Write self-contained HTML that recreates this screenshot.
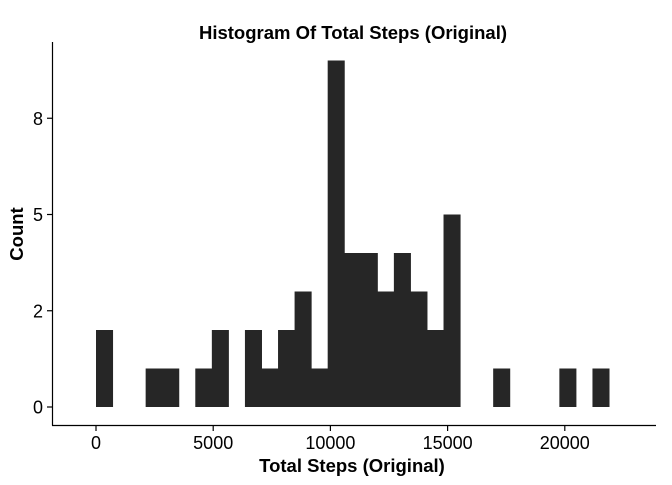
<!DOCTYPE html>
<html><head><meta charset="utf-8"><style>
body{margin:0;background:#fff;}
svg text{font-family:"Liberation Sans",Arial,sans-serif;}
</style></head><body>
<svg width="672" height="480" xmlns="http://www.w3.org/2000/svg">
<text x="353" y="39" text-anchor="middle" font-size="18.5" font-weight="bold" fill="#000">Histogram Of Total Steps (Original)</text>
<g id="bars"></g>
<line x1="52.5" y1="42" x2="52.5" y2="425.5" stroke="#000" stroke-width="1.2"/>
<line x1="52" y1="425.5" x2="656" y2="425.5" stroke="#000" stroke-width="1.2"/>
<g id="xt"></g>
<g id="yt"></g>
<text x="352" y="472" text-anchor="middle" font-size="18.5" font-weight="bold" fill="#000">Total Steps (Original)</text>
<text transform="translate(23,234) rotate(-90)" text-anchor="middle" font-size="18.5" font-weight="bold" fill="#000">Count</text>
</svg>
<script>
const binWidth = 706;
const counts = [2,0,0,1,1,0,1,2,0,2,1,2,3,1,9,4,4,3,4,3,2,5,0,0,1,0,0,0,1,0,1];
const xTicks = [0,5000,10000,15000,20000];
const yTickValues = [0,2.5,5,7.5];
const yTickLabels = ["0","2","5","8"];
const NS="http://www.w3.org/2000/svg";
function x(v){return 96+v*(117.2/5000);}
function y(v){return 407-v*38.5;}
const bars=document.getElementById('bars');
counts.forEach((c,i)=>{
  if(!c) return;
  const r=document.createElementNS(NS,'rect');
  const x0=x(i*binWidth), x1=x((i+1)*binWidth);
  r.setAttribute('x',x0);r.setAttribute('width',x1-x0+0.5);
  r.setAttribute('y',y(c));r.setAttribute('height',y(0)-y(c));
  r.setAttribute('fill','#262626');
  
  
  bars.appendChild(r);
});
const xt=document.getElementById('xt');
xTicks.forEach(v=>{
  const l=document.createElementNS(NS,'line');
  l.setAttribute('x1',x(v));l.setAttribute('x2',x(v));l.setAttribute('y1',425.5);l.setAttribute('y2',431);
  l.setAttribute('stroke','#000');l.setAttribute('stroke-width','1.2');
  
  
  xt.appendChild(l);
  const t=document.createElementNS(NS,'text');
  t.setAttribute('x',x(v));t.setAttribute('y',449);t.setAttribute('text-anchor','middle');t.setAttribute('font-size','18');
  t.textContent=v;
  
  
  xt.appendChild(t);
});
const yt=document.getElementById('yt');
yTickValues.forEach((v,i)=>{
  const l=document.createElementNS(NS,'line');
  l.setAttribute('x1',47);l.setAttribute('x2',52.5);l.setAttribute('y1',y(v));l.setAttribute('y2',y(v));
  l.setAttribute('stroke','#000');l.setAttribute('stroke-width','1.2');
  
  
  yt.appendChild(l);
  const t=document.createElementNS(NS,'text');
  t.setAttribute('x',43);t.setAttribute('y',y(v)+6.5);t.setAttribute('text-anchor','end');t.setAttribute('font-size','18');
  t.textContent=yTickLabels[i];
  
  
  yt.appendChild(t);
});
</script>
</body></html>
